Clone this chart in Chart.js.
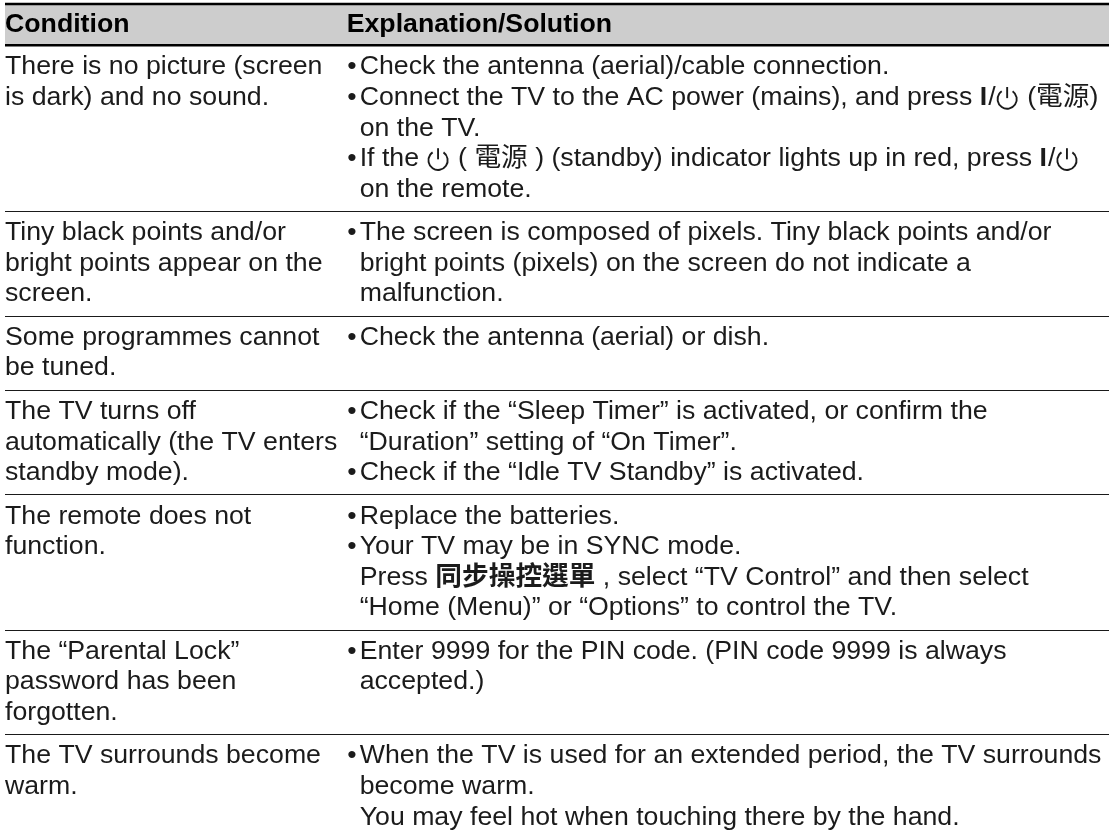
<!DOCTYPE html>
<html>
<head>
<meta charset="utf-8">
<script src="https://cdn.jsdelivr.net/npm/chart.js@4.4.1/dist/chart.umd.min.js"></script>
<style>
  html, body { margin: 0; padding: 0; background: #fff; overflow: hidden; }
</style>
</head>
<body>
<canvas id="table" width="1111" height="839"></canvas>
<script>
// column titles
const headers = ['Condition', 'Explanation/Solution'];

// left column, one entry per row (already wrapped like the print)
const conditions = [
  ['There is no picture (screen', 'is dark) and no sound.'],
  ['Tiny black points and/or', 'bright points appear on the', 'screen.'],
  ['Some programmes cannot', 'be tuned.'],
  ['The TV turns off', 'automatically (the TV enters', 'standby mode).'],
  ['The remote does not', 'function.'],
  ['The \u201cParental Lock\u201d', 'password has been', 'forgotten.'],
  ['The TV surrounds become', 'warm.']
];

// right column: each row is a list of bullet items, each item a list of lines
// {I} = bold bar, {pw} = power mark, {b:...} = bold text
const solutions = [
  [
    ['Check the antenna (aerial)/cable connection.'],
    ['Connect the TV to the AC power (mains), and press {I}/{pw} (\u96fb\u6e90)', 'on the TV.'],
    ['If the {pw} ( \u96fb\u6e90 ) (standby) indicator lights up in red, press {I}/{pw}', 'on the remote.']
  ],
  [
    ['The screen is composed of pixels. Tiny black points and/or', 'bright points (pixels) on the screen do not indicate a', 'malfunction.']
  ],
  [
    ['Check the antenna (aerial) or dish.']
  ],
  [
    ['Check if the \u201cSleep Timer\u201d is activated, or confirm the', '\u201cDuration\u201d setting of \u201cOn Timer\u201d.'],
    ['Check if the \u201cIdle TV Standby\u201d is activated.']
  ],
  [
    ['Replace the batteries.'],
    ['Your TV may be in SYNC mode.', 'Press {b:\u540c\u6b65\u64cd\u63a7\u9078\u55ae} , select \u201cTV Control\u201d and then select', '\u201cHome (Menu)\u201d or \u201cOptions\u201d to control the TV.']
  ],
  [
    ['Enter 9999 for the PIN code. (PIN code 9999 is always', 'accepted.)']
  ],
  [
    ['When the TV is used for an extended period, the TV surrounds', 'become warm.', 'You may feel hot when touching there by the hand.']
  ]
];

const FONT = '"Liberation Sans", Arial, Helvetica, "Noto Sans CJK TC", sans-serif';
const SIZE = 26.7;
const HEAD_UNITS = 1.35;   // header height, in text lines
const PAD_UNITS = 0.42;    // extra space per row, in text lines
const COL2 = 0.3095;       // start of second column on the 0..1 x scale
const TEXT_COLOR = '#1b1b1b';

function rowLines(i) {
  const right = solutions[i].reduce((n, item) => n + item.length, 0);
  return Math.max(conditions[i].length, right);
}

// row edges on the y scale
const edges = [0, HEAD_UNITS];
conditions.forEach((c, i) => edges.push(edges[edges.length - 1] + rowLines(i) + PAD_UNITS));

function drawPower(ctx, x, yMid) {
  const r = SIZE * 0.36;
  const cx = x + r + 2;
  const cy = yMid + 1.5;
  ctx.save();
  ctx.strokeStyle = TEXT_COLOR;
  ctx.lineWidth = 1.9;
  ctx.beginPath();
  ctx.arc(cx, cy, r, -Math.PI / 2 + 0.6, -Math.PI / 2 - 0.6 + Math.PI * 2);
  ctx.stroke();
  ctx.beginPath();
  ctx.moveTo(cx, cy - r - 2.5);
  ctx.lineTo(cx, cy - 1);
  ctx.stroke();
  ctx.restore();
  return 2 * r + 5;
}

function drawRich(ctx, str, x, yMid) {
  const parts = str.split(/\{([^}]*)\}/);
  parts.forEach((p, k) => {
    if (k % 2 === 0) {
      if (!p) return;
      ctx.font = SIZE + 'px ' + FONT;
      ctx.fillText(p, x, yMid);
      x += ctx.measureText(p).width;
    } else if (p === 'pw') {
      x += drawPower(ctx, x, yMid);
    } else {
      const txt = p === 'I' ? 'I' : p.slice(2);
      ctx.font = 'bold ' + SIZE + 'px ' + FONT;
      ctx.fillText(txt, x, yMid);
      x += ctx.measureText(txt).width;
      if (p === 'I') x += 1;
    }
  });
}

const tablePlugin = {
  id: 'tablePlugin',
  afterDraw(chart) {
    const { ctx, scales: { x, y } } = chart;
    const left = x.getPixelForValue(0);
    const right = x.getPixelForValue(1);
    const col2 = x.getPixelForValue(COL2);

    ctx.save();
    // header band
    const hTop = y.getPixelForValue(edges[0]);
    const hBot = y.getPixelForValue(edges[1]);
    ctx.fillStyle = '#cdcdcd';
    ctx.fillRect(left, hTop, right - left, hBot - hTop);
    ctx.strokeStyle = '#000';
    ctx.lineWidth = 2.6;
    [hTop, hBot].forEach(py => {
      ctx.beginPath();
      ctx.moveTo(left, py);
      ctx.lineTo(right, py);
      ctx.stroke();
    });

    ctx.textBaseline = 'middle';
    ctx.fillStyle = '#000';
    ctx.font = 'bold ' + SIZE + 'px ' + FONT;
    const hMid = (hTop + hBot) / 2;
    ctx.fillText(headers[0], left, hMid);
    ctx.fillText(headers[1], col2, hMid);

    // row separators
    ctx.strokeStyle = '#1a1a1a';
    ctx.lineWidth = 1.2;
    for (let i = 2; i < edges.length - 1; i++) {
      const py = Math.round(y.getPixelForValue(edges[i])) + 0.5;
      ctx.beginPath();
      ctx.moveTo(left, py);
      ctx.lineTo(right, py);
      ctx.stroke();
    }

    // cell text
    ctx.fillStyle = TEXT_COLOR;
    conditions.forEach((lines, i) => {
      const first = edges[i + 1] + PAD_UNITS / 2 + 0.5;
      lines.forEach((ln, j) => {
        ctx.font = SIZE + 'px ' + FONT;
        ctx.fillText(ln, left, y.getPixelForValue(first + j));
      });
      let n = 0;
      solutions[i].forEach(item => {
        item.forEach((ln, j) => {
          const py = y.getPixelForValue(first + n);
          if (j === 0) {
            ctx.font = SIZE + 'px ' + FONT;
            ctx.fillText('\u2022', col2 + 0.5, py);
          }
          drawRich(ctx, ln, col2 + 13, py);
          n++;
        });
      });
    });
    ctx.restore();
  }
};

new Chart(document.getElementById('table'), {
  type: 'scatter',
  data: { datasets: [{ data: [] }] },
  options: {
    responsive: false,
    animation: false,
    events: [],
    layout: { padding: { left: 5, right: 2, top: 4, bottom: 0 } },
    plugins: { legend: { display: false }, tooltip: { enabled: false } },
    scales: {
      x: { type: 'linear', min: 0, max: 1, display: false },
      y: { type: 'linear', min: 0, max: edges[edges.length - 1], reverse: true, display: false }
    }
  },
  plugins: [tablePlugin]
});
</script>
</body>
</html>
